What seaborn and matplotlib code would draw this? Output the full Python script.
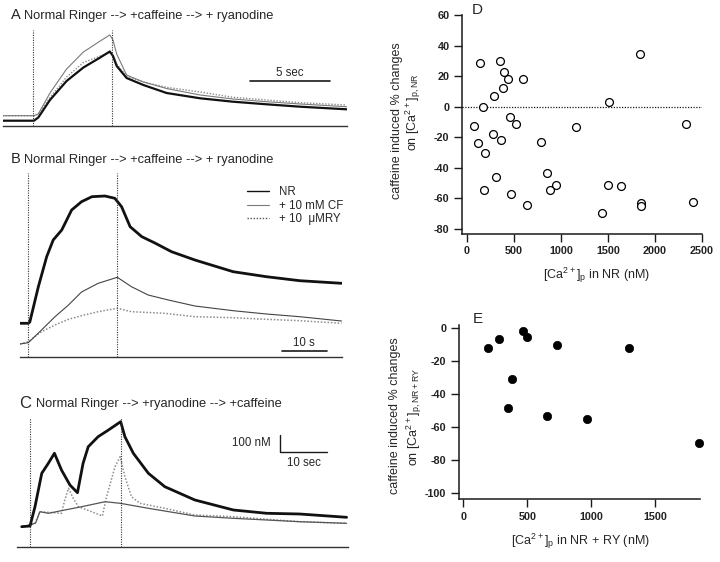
import numpy as np
import pandas as pd
import matplotlib
matplotlib.use("Agg")
import matplotlib.pyplot as plt
from matplotlib.lines import Line2D
import seaborn as sns

# ---------------- data ----------------
# Panel A (time in s relative to caffeine application, signal in a.u.)
tA = [-1.9, 0.06, 0.33, 1.06, 2.1, 3.15, 4.2, 4.8, 5.0, 5.23, 5.85, 6.9, 8.35, 10.45, 12.5, 14.6, 16.7, 19.6]
A_nr = [5.3, 5.3, 8.5, 26.0, 45.0, 58.5, 68.5, 74.5, 70.0, 60.0, 48.0, 41.0, 33.0, 27.7, 24.3, 21.7, 19.3, 16.7]
A_cf = [10.3, 10.3, 12.0, 33.0, 57.0, 74.0, 85.0, 91.0, 86.0, 72.0, 51.0, 44.0, 37.5, 31.0, 27.0, 24.3, 22.0, 19.3]
A_ry = [10.3, 10.3, 12.0, 28.5, 49.0, 63.5, 70.0, 73.5, 71.0, 62.0, 50.0, 44.0, 38.7, 34.0, 28.7, 26.0, 23.3, 21.0]
events_A = [0.0, 4.95]

# Panel B
tB_nr = [-1.78, 0.07, 0.4, 2.3, 4.15, 5.6, 7.5, 9.7, 11.9, 14.2, 17.1, 19.3, 20.8, 22.7, 25.3, 28.2, 31.9, 37.1, 45.6, 53.0, 60.4, 69.7]
B_nr = [33.7, 33.7, 35.0, 70.3, 100.3, 117.0, 127.0, 147.0, 155.3, 160.3, 161.0, 158.7, 150.3, 130.3, 120.3, 114.0, 105.3, 97.0, 85.3, 80.3, 76.3, 73.7]
tB_cf = [-1.78, 0.07, 3.0, 6.0, 9.0, 11.9, 15.6, 19.85, 23.0, 26.7, 31.2, 37.1, 45.6, 53.0, 60.4, 69.7]
B_cf = [13.0, 14.3, 27.0, 40.3, 52.0, 65.0, 73.7, 79.7, 70.3, 62.0, 57.0, 51.0, 46.3, 43.0, 40.3, 36.0]
tB_ry = [-1.78, 0.07, 3.0, 6.0, 9.0, 11.9, 15.6, 19.85, 23.0, 30.4, 37.1, 45.6, 53.0, 60.4, 69.7]
B_ry = [13.0, 15.3, 25.3, 32.0, 37.7, 41.3, 45.3, 48.7, 45.3, 43.7, 40.3, 39.3, 37.7, 36.3, 33.7]
events_B = [0.0, 19.85]
legend_B = ["NR", "+ 10 mM CF", "+ 10  \u03bcMRY"]

# Panel C
tC_nr = [-1.77, 0.0, 1.06, 2.5, 3.9, 5.2, 6.7, 8.5, 10.1, 11.3, 12.4, 14.5, 16.7, 18.8, 19.3, 20.2, 22.0, 25.2, 28.7, 35.1, 43.3, 50.4, 57.4, 67.4]
C_nr = [20.3, 21.0, 40.3, 73.7, 83.7, 93.7, 77.0, 62.0, 54.3, 83.7, 100.3, 110.3, 117.0, 123.7, 125.3, 110.3, 93.7, 73.7, 60.3, 47.0, 37.0, 33.7, 33.0, 29.7]
tC_ry = [-1.77, 0.0, 1.2, 2.1, 3.9, 7.4, 11.0, 16.0, 19.2, 25.2, 35.1, 43.3, 50.4, 57.4, 67.4]
C_ry = [20.3, 22.0, 24.0, 35.3, 33.7, 37.0, 40.3, 45.3, 43.7, 38.7, 31.0, 28.7, 27.0, 25.3, 23.7]
tC_cf = [-1.77, 0.0, 1.06, 2.1, 6.7, 7.4, 8.2, 9.2, 10.3, 13.1, 15.4, 16.3, 18.1, 19.2, 20.2, 21.6, 23.4, 28.7, 35.1, 43.3, 57.4, 67.4]
C_cf = [20.3, 22.0, 23.7, 35.3, 33.7, 47.0, 58.7, 48.7, 40.3, 35.3, 31.0, 50.3, 80.3, 90.3, 70.3, 50.3, 43.7, 38.7, 32.0, 30.3, 25.3, 23.7]
events_C = [0.0, 19.3]

# Panel D: [Ca2+]p in NR (nM) vs caffeine induced % change
D_x = [135, 355, 390, 440, 380, 600, 284, 1837, 1511, 170, 454, 525, 78, 1163, 2326, 273, 362, 121,
       784, 188, 305, 855, 943, 887, 184, 468, 642, 1504, 1635, 1436, 1848, 1848, 2404]
D_y = [28.5, 30, 23, 18, 12, 18, 7, 34.5, 3, 0, -7, -11.4, -12.5, -13.6, -11.2, -18, -21.7, -24,
       -23, -30.2, -45.9, -43.5, -51, -54.7, -54.4, -56.8, -64, -51.4, -52, -69.5, -63.2, -64.7, -62.3]

# Panel E: [Ca2+]p in NR + RY (nM) vs caffeine induced % change
E_x = [190, 281, 464, 495, 734, 1297, 383, 352, 654, 964, 1841]
E_y = [-12.5, -7, -2, -5.8, -10.7, -12.1, -31, -48.3, -53.5, -55, -69.8]

D_xticks = [0, 500, 1000, 1500, 2000, 2500]
D_yticks = [-80, -60, -40, -20, 0, 20, 40, 60]
E_xticks = [0, 500, 1000, 1500]
E_yticks = [-100, -80, -60, -40, -20, 0]

# ---------------- style ----------------
sns.set_theme(style="white")
plt.rcParams['font.family'] = ['Liberation Sans', 'DejaVu Sans']
plt.rcParams['mathtext.default'] = 'regular'
plt.rcParams['axes.unicode_minus'] = False

W, H = 720, 562
fig = plt.figure(figsize=(7.2, 5.62), dpi=100)
fig.patch.set_facecolor('white')


def ax_px(left, top, right, bottom):
    return fig.add_axes([left / W, 1 - bottom / H, (right - left) / W, (bottom - top) / H])


def ftext(x, y, s, **kw):
    fig.text(x / W, 1 - y / H, s, **kw)


def trace_axes(ax, xlim, ylim):
    ax.set_xlim(*xlim)
    ax.set_ylim(*ylim)
    for sp in ['left', 'right', 'top']:
        ax.spines[sp].set_visible(False)
    ax.spines['bottom'].set_color('#333333')
    ax.spines['bottom'].set_linewidth(1.0)
    ax.set_xticks([])
    ax.set_yticks([])
    ax.set_xlabel('')
    ax.set_ylabel('')
    ax.patch.set_alpha(0)


def trace(ax, t, v, **kw):
    df = pd.DataFrame({'t': t, 'v': v})
    sns.lineplot(data=df, x='t', y='v', sort=False, estimator=None, ax=ax, **kw)


BLACK = '#111111'
GRAY = '#7a7a7a'
DOT = (0, (1, 1.2))
title_fs = 9.3
letter_fs = 10.5
small_fs = 8.3

# ---------------- Panel A ----------------
axA = ax_px(3, 26, 347, 126)
trace(axA, tA, A_ry, color='#8c8c8c', lw=1.0, linestyle=DOT)
trace(axA, tA, A_cf, color=GRAY, lw=0.8)
trace(axA, tA, A_nr, color=BLACK, lw=1.6)
axA.vlines(events_A, 0, 96, colors='#333333', linestyles=DOT, lw=0.8)
trace_axes(axA, (-1.875, 19.625), (0, 100))
axA.plot([13.56, 18.56], [45, 45], color='k', lw=1.2)
axA.text(16.06, 53.5, '5 sec', ha='center', va='center', fontsize=small_fs)
ftext(11, 15, 'A', fontsize=letter_fs, va='center', ha='left')
ftext(24, 15.5, 'Normal Ringer --> +caffeine --> + ryanodine', fontsize=title_fs, va='center', ha='left')

# ---------------- Panel B ----------------
axB = ax_px(20, 157, 342, 357)
trace(axB, tB_ry, B_ry, color='#8c8c8c', lw=1.1, linestyle=DOT)
trace(axB, tB_cf, B_cf, color='#444444', lw=0.8)
trace(axB, tB_nr, B_nr, color=BLACK, lw=2.0)
axB.vlines(events_B, 0, 184, colors='#333333', linestyles=DOT, lw=0.8)
trace_axes(axB, (-1.78, 69.8), (0, 200))
axB.plot([56.4, 66.4], [6, 6], color='k', lw=1.2)
axB.text(61.4, 14.5, '10 s', ha='center', va='center', fontsize=small_fs)
handles = [Line2D([], [], color=BLACK, lw=1.0),
           Line2D([], [], color=GRAY, lw=0.8),
           Line2D([], [], color='#555555', lw=1.0, linestyle=DOT)]
axB.legend(handles, legend_B, frameon=False, loc='upper left',
           bbox_to_anchor=((247 - 20) / 322, (357 - 186) / 200), borderaxespad=0, borderpad=0,
           fontsize=small_fs, handlelength=1.9, handletextpad=0.9, labelspacing=0.15)
ftext(11, 159, 'B', fontsize=letter_fs, va='center', ha='left')
ftext(24, 159.5, 'Normal Ringer --> +caffeine --> + ryanodine', fontsize=title_fs, va='center', ha='left')

# ---------------- Panel C ----------------
axC = ax_px(17, 397, 348, 547)
trace(axC, tC_cf, C_cf, color='#8c8c8c', lw=1.1, linestyle=DOT)
trace(axC, tC_ry, C_ry, color='#555555', lw=0.9)
trace(axC, tC_nr, C_nr, color=BLACK, lw=2.0)
axC.vlines(events_C, 0, 129, colors='#333333', linestyles=DOT, lw=0.8)
trace_axes(axC, (-2.77, 67.7), (0, 150))
axC.plot([53.2, 53.2, 63.2], [112, 95, 95], color='k', lw=1.0)
axC.text(51.2, 104.5, '100 nM', ha='right', va='center', fontsize=small_fs)
axC.text(58.4, 84.5, '10 sec', ha='center', va='center', fontsize=small_fs)
ftext(19, 403, 'C', fontsize=letter_fs + 1.5, va='center', ha='left')
ftext(36, 404, 'Normal Ringer --> +ryanodine --> +caffeine', fontsize=title_fs, va='center', ha='left')


# ---------------- scatter panel styling ----------------
def scatter_axes(ax, xlim, ylim, xticks, yticks):
    ax.set_xlim(*xlim)
    ax.set_ylim(*ylim)
    ax.set_xticks(xticks)
    ax.set_yticks(yticks)
    ax.set_xticklabels([str(v) for v in xticks])
    ax.set_yticklabels([str(v) for v in yticks])
    for sp in ['right', 'top']:
        ax.spines[sp].set_visible(False)
    for sp in ['left', 'bottom']:
        ax.spines[sp].set_color('k')
        ax.spines[sp].set_linewidth(1.1)
    ax.tick_params(axis='both', which='both', direction='out', length=6, width=1.0,
                   color='k', labelsize=7.8, labelcolor='#222222', pad=3,
                   left=True, bottom=True)
    for lab in ax.get_xticklabels() + ax.get_yticklabels():
        lab.set_fontweight('bold')
    ax.set_xlabel('')
    ax.set_ylabel('')
    ax.patch.set_alpha(0)


# ---------------- Panel D ----------------
axD = ax_px(462, 15, 702, 234)
axD.axhline(0, color='k', lw=0.9, linestyle=DOT, zorder=1)
sns.scatterplot(x=D_x, y=D_y, ax=axD, marker='o', s=32, color='white',
                edgecolor='black', linewidth=0.9, zorder=3, clip_on=False)
scatter_axes(axD, (-53, 2500), (-83.3, 60), D_xticks, D_yticks)
ftext(472, 10, 'D', fontsize=11, va='center', ha='left')
ftext(597, 275, '[Ca$^{2+}$]$_p$ in NR (nM)', fontsize=9, ha='center', va='center')
ftext(397, 121, 'caffeine induced % changes', fontsize=9, rotation=90, ha='center', va='center')
ftext(413, 112, 'on [Ca$^{2+}$]$_{p, NR}$', fontsize=9, rotation=90, ha='center', va='center')

# ---------------- Panel E ----------------
axE = ax_px(459, 325, 700, 499)
sns.scatterplot(x=E_x, y=E_y, ax=axE, marker='o', s=36, color='black',
                edgecolor='black', linewidth=0.5, zorder=3, clip_on=False)
scatter_axes(axE, (-34, 1849), (-103.4, 1.6), E_xticks, E_yticks)
ftext(473, 319, 'E', fontsize=11, va='center', ha='left')
ftext(580, 541, '[Ca$^{2+}$]$_p$ in NR + RY (nM)', fontsize=9, ha='center', va='center')
ftext(395, 416, 'caffeine induced % changes', fontsize=9, rotation=90, ha='center', va='center')
ftext(414, 417, 'on [Ca$^{2+}$]$_{p, NR+RY}$', fontsize=9, rotation=90, ha='center', va='center')

fig.savefig('out.png', dpi=100, facecolor='white')
